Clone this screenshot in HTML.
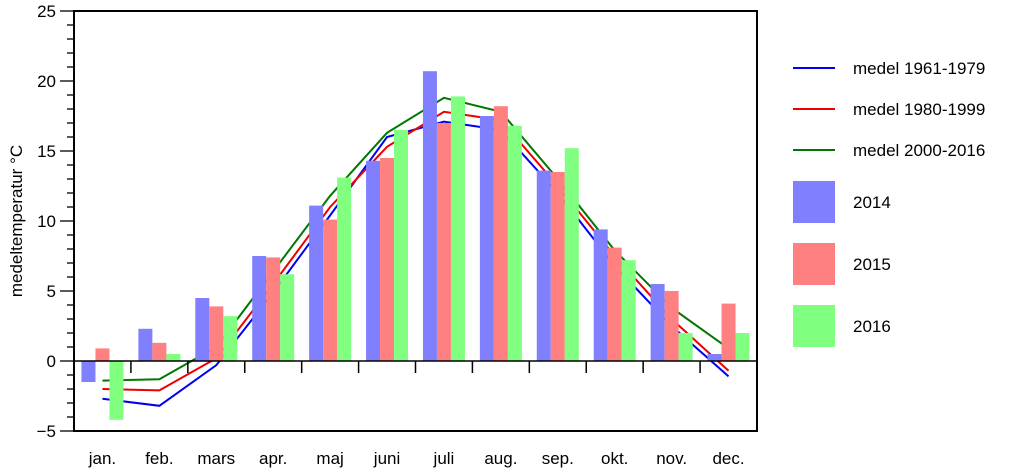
<!DOCTYPE html>
<html><head><meta charset="utf-8"><style>
body{margin:0;background:#fff}
svg text{font-family:"Liberation Sans",Arial,sans-serif;fill:#000}
</style></head><body>
<svg id="chart" width="1024" height="470" viewBox="0 0 1024 470"></svg>
<script>
const months=["jan.","feb.","mars","apr.","maj","juni","juli","aug.","sep.","okt.","nov.","dec."];
const v2014=[-1.5,2.3,4.5,7.5,11.1,14.3,20.7,17.5,13.6,9.4,5.5,0.5];
const v2015=[0.9,1.3,3.9,7.4,10.1,14.5,17.0,18.2,13.5,8.1,5.0,4.1];
const v2016=[-4.2,0.5,3.2,6.2,13.1,16.5,18.9,16.8,15.2,7.2,2.0,2.0];
const m6179=[-2.7,-3.2,-0.3,4.9,10.4,16.0,17.1,16.5,12.0,6.8,2.5,-1.1];
const m8099=[-2.0,-2.1,0.2,5.5,11.0,15.3,17.8,17.2,12.5,7.5,3.0,-0.7];
const m0016=[-1.4,-1.3,1.0,6.4,11.8,16.3,18.8,17.8,13.0,7.9,3.8,0.9];
const yTicks=[-5,0,5,10,15,20,25];
const NS="http://www.w3.org/2000/svg";
const svg=document.getElementById('chart');
const X0=74,X1=757,Y0=431,Y1=11,ymin=-5,ymax=25;
const gw=(X1-X0)/12;
const y=v=>Y0-(v-ymin)/(ymax-ymin)*(Y0-Y1);
const xc=i=>X0+gw*(i+0.5);
function el(t,a,p){const e=document.createElementNS(NS,t);for(const k in a)e.setAttribute(k,a[k]);(p||svg).appendChild(e);return e;}
const bw=14;
const lines=[[m6179,"#0000ee","line-1961-1979"],[m8099,"#ee0000","line-1980-1999"],[m0016,"#007700","line-2000-2016"]];
lines.forEach(l=>{
 const p=el('polyline',{points:l[0].map((v,i)=>xc(i)+","+y(v)).join(" "),fill:"none",stroke:l[1],"stroke-width":2});
 
 
});
const series=[[v2014,"#8080ff",-14,"bar-2014"],[v2015,"#ff8080",0,"bar-2015"],[v2016,"#80ff80",14,"bar-2016"]];
series.forEach(s=>{s[0].forEach((v,i)=>{
 const cx=xc(i)+s[2];const t=Math.min(y(v),y(0)),h=Math.abs(y(v)-y(0));
 const r=el('rect',{x:cx-bw/2,y:t,width:bw,height:h,fill:s[1]});
 
 
});});
const z=el('line',{x1:X0,x2:X1,y1:y(0),y2:y(0),stroke:"#000","stroke-width":1.5});


for(let i=1;i<12;i++){el('line',{x1:X0+gw*i,x2:X0+gw*i,y1:y(0),y2:y(0)+12,stroke:"#000","stroke-width":1.5});}
const f=el('rect',{x:X0,y:Y1,width:X1-X0,height:Y0-Y1,fill:"none",stroke:"#000","stroke-width":2});


for(let v=ymin;v<=ymax;v++){
 const maj=v%5===0;
 el('line',{x1:X0-(maj?14:7),x2:X0,y1:y(v),y2:y(v),stroke:"#000","stroke-width":1.3});
}
yTicks.forEach(v=>{
 const t=el('text',{x:X0-18,y:y(v)+6,"text-anchor":"end","font-size":17});t.textContent=v<0?"\u2212"+(-v):v;
 
 
});
months.forEach((m,i)=>{
 const t=el('text',{x:xc(i),y:464,"text-anchor":"middle","font-size":17});t.textContent=m;
 
 
});
const yt=el('text',{x:0,y:0,"text-anchor":"middle","font-size":17,transform:"translate(22,221) rotate(-90)"});
yt.textContent="medeltemperatur °C";


const leg=[["line","#0000ee","medel 1961-1979",68],["line","#ee0000","medel 1980-1999",109],["line","#007700","medel 2000-2016",150],["box","#8080ff","2014",202],["box","#ff8080","2015",264],["box","#80ff80","2016",326]];
leg.forEach(l=>{
 const g=el('g',{});
 
 
 if(l[0]==="line")el('line',{x1:793,x2:835,y1:l[3],y2:l[3],stroke:l[1],"stroke-width":2},g);
 else el('rect',{x:793,y:l[3]-21,width:42,height:42,fill:l[1]},g);
 const t=el('text',{x:853,y:l[3]+6,"font-size":17},g);t.textContent=l[2];
});
</script>
</body></html>
